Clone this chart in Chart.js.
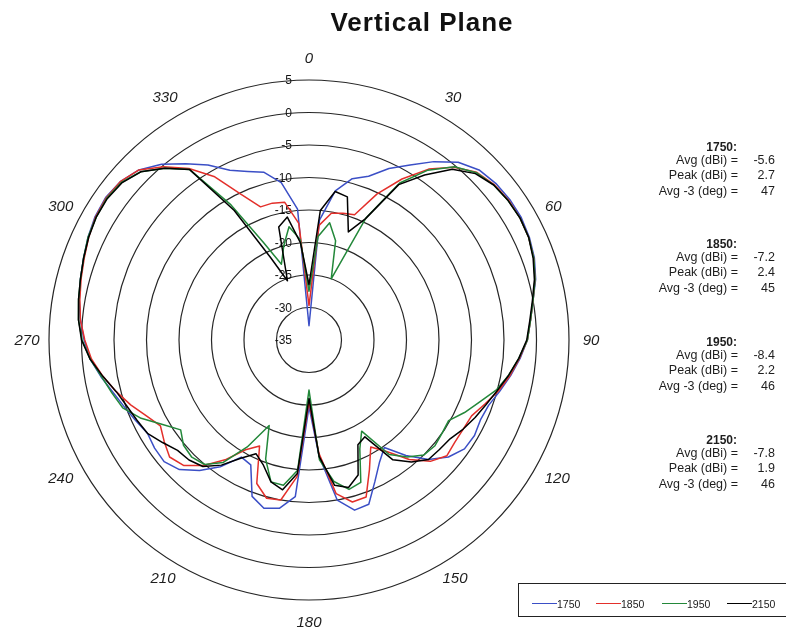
<!DOCTYPE html>
<html><head><meta charset="utf-8">
<script src="https://cdn.jsdelivr.net/npm/chart.js@4.4.1/dist/chart.umd.min.js"></script>
<style>
body{margin:0;background:#fff;}
#wrap{position:relative;width:786px;height:635px;overflow:hidden;font-family:Arial,"Liberation Sans",sans-serif;background:#fff;}
canvas{position:absolute;left:0;top:0;}
.t{position:absolute;white-space:nowrap;color:#1e1e1e;line-height:1;}
</style></head><body>
<div id="wrap"><canvas id="c" width="786" height="635"></canvas></div>
<script>
// ---- data ----
const title = 'Vertical Plane';
const angles = [0,5,10,15,20,25,30,35,40,45,50,55,60,65,70,75,80,85,90,95,100,105,110,115,120,125,130,135,140,145,150,155,160,165,170,175,180,185,190,195,200,205,210,215,220,225,230,235,240,245,250,255,260,265,270,275,280,285,290,295,300,305,310,315,320,325,330,335,340,345,350,355];
const angleTickLabels = [0,30,60,90,120,150,180,210,240,270,300,330];
const radialTickLabels = [5,0,-5,-10,-15,-20,-25,-30,-35];
const seriesNames = ['1750','1850','1950','2150'];
const seriesColors = ['#3b4fc6','#e3302b','#23883a','#000000'];

const gain1750 = [-32.8,-16.5,-11.7,-9.3,-8.2,-5.9,-3.9,-1.5,0.7,2.0,2.5,2.7,2.7,2.4,1.9,1.1,0.0,-0.8,-1.4,-2.4,-3.5,-4.6,-5.6,-5.9,-5.6,-5.8,-7.0,-9.0,-11.8,-14.8,-13.3,-11.0,-8.1,-7.9,-10.0,-17.0,-24.7,-10.8,-8.7,-8.2,-9.4,-13.8,-14.2,-11.2,-8.8,-6.8,-5.9,-6.0,-6.3,-5.6,-4.8,-3.8,-2.5,-1.2,-0.4,0.3,0.9,1.4,1.9,2.5,3.0,3.2,2.9,2.0,0.3,-1.9,-3.9,-6.2,-7.4,-8.3,-10.4,-14.8];
const gain1850 = [-29.7,-17.3,-15.2,-14.8,-14.5,-10.2,-6.4,-2.9,-0.3,1.5,2.2,2.5,2.5,2.3,1.8,1.0,0.0,-0.8,-1.4,-2.5,-3.6,-4.8,-6.2,-7.4,-7.6,-7.6,-7.3,-8.6,-11.0,-14.0,-16.0,-13.0,-9.3,-9.2,-11.0,-17.5,-25.5,-13.9,-10.0,-9.8,-11.5,-17.0,-15.5,-12.5,-9.8,-7.7,-7.0,-7.8,-8.6,-7.4,-5.8,-4.3,-2.8,-1.4,-0.5,0.3,0.8,1.3,1.8,2.4,2.9,3.1,2.9,2.0,-0.2,-2.8,-6.0,-10.3,-13.2,-13.2,-13.5,-17.0];
const gain1950 = [-27.5,-19.0,-16.7,-19.2,-25.0,-14.3,-7.1,-3.1,-0.2,1.4,2.1,2.4,2.5,2.3,1.8,1.0,0.0,-0.8,-1.4,-2.6,-3.8,-5.2,-7.1,-8.6,-10.2,-10.0,-9.7,-10.0,-11.5,-13.5,-18.8,-16.5,-11.7,-11.2,-12.9,-16.5,-27.3,-14.9,-12.3,-12.4,-15.5,-20.5,-16.0,-12.0,-10.0,-9.5,-9.8,-10.9,-9.0,-6.5,-4.5,-3.6,-2.6,-1.2,-0.1,0.6,1.0,1.4,1.9,2.5,2.8,3.0,2.7,1.6,-0.5,-3.0,-11.0,-18.5,-22.6,-20.0,-17.3,-19.5];
const gain2150 = [-26.5,-15.0,-11.8,-12.2,-17.3,-14.4,-7.4,-4.0,-0.7,1.2,2.1,2.4,2.5,2.3,1.7,0.9,-0.1,-0.9,-1.5,-2.6,-3.8,-5.0,-6.0,-6.8,-7.6,-8.5,-8.8,-9.0,-10.5,-12.5,-17.8,-17.2,-12.9,-11.5,-12.3,-17.0,-26.0,-14.4,-11.6,-12.4,-14.5,-15.7,-14.0,-11.5,-9.6,-8.9,-8.6,-7.5,-6.3,-5.8,-5.2,-4.3,-2.8,-1.2,0.0,0.6,1.0,1.4,1.9,2.4,2.8,2.9,2.6,1.6,-0.5,-3.0,-12.0,-21.0,-25.3,-17.0,-15.8,-20.0];

const statAvg = ['-5.6','-7.2','-8.4','-7.8'];
const statPeak = ['2.7','2.4','2.2','1.9'];
const statAvg3 = ['47','45','46','46'];

// ---- overlay text (title, stats, legend) ----
const wrap = document.getElementById('wrap');
function addText(txt, css){
  const d = document.createElement('div');
  d.className = 't'; d.textContent = txt;
  Object.assign(d.style, css);
  wrap.appendChild(d);
  return d;
}
addText(title, {left:'0px', width:'844px', textAlign:'center', top:'9px', fontSize:'26px', fontWeight:'bold', color:'#111', letterSpacing:'1px'});

const groupTop = [141, 238, 336, 434];
const rowOff = [0, 13, 28, 44];
seriesNames.forEach((n, i) => {
  const y = groupTop[i];
  addText(n + ':', {right:(786-737)+'px', top:(y+rowOff[0])+'px', fontSize:'12px', fontWeight:'bold'});
  const labels = ['Avg (dBi) =', 'Peak (dBi) =', 'Avg -3 (deg) ='];
  const vals = [statAvg[i], statPeak[i], statAvg3[i]];
  labels.forEach((l, k) => {
    addText(l, {right:(786-738)+'px', top:(y+rowOff[k+1])+'px', fontSize:'12.5px'});
    addText(vals[k], {right:(786-775)+'px', top:(y+rowOff[k+1])+'px', fontSize:'12.5px'});
  });
});

// legend box
const lg = document.createElement('div');
Object.assign(lg.style, {position:'absolute', left:'518px', top:'583px', width:'280px', height:'34px', border:'1px solid #222', boxSizing:'border-box'});
wrap.appendChild(lg);
const legX = [532, 596, 662, 727];
seriesNames.forEach((n, i) => {
  const ln = document.createElement('div');
  Object.assign(ln.style, {position:'absolute', left:legX[i]+'px', top:'603px', width:'25px', height:'0', borderTop:'1.2px solid '+seriesColors[i]});
  wrap.appendChild(ln);
  addText(n, {left:(legX[i]+25)+'px', top:'598.5px', fontSize:'10.5px', color:'#1a1a1a'});
});

// ---- chart ----
// small nudges so angle labels sit like the original's (pulled toward the horizontal axis)
function labelNudge(a){
  const side = a < 180 ? 1 : -1;
  if (a === 60 || a === 300) return [side * 0 - (a === 300 ? 4 : 0), 7];
  if (a === 120 || a === 240) return [side * 4, -3];
  if (a === 150 || a === 210) return [side * 5, -6];
  if (a === 30 || a === 330) return [side * 3, 1];
  return [0, 0];
}
const labelPlugin = {
  id: 'polarLabels',
  beforeDatasetsDraw(chart){
    const s = chart.scales.r, ctx = chart.ctx;
    ctx.save();
    ctx.fillStyle = '#111';
    ctx.font = '12px Arial, "Liberation Sans", sans-serif';
    ctx.textAlign = 'right'; ctx.textBaseline = 'middle';
    radialTickLabels.forEach(v => {
      const d = s.getDistanceFromCenterForValue(v);
      ctx.fillText(String(v), s.xCenter - 17, s.yCenter - d + 1);
    });
    ctx.restore();
  },
  afterDraw(chart){
    const s = chart.scales.r, ctx = chart.ctx;
    ctx.save();
    ctx.fillStyle = '#1e1e1e';
    ctx.font = 'italic 15px Arial, "Liberation Sans", sans-serif';
    ctx.textAlign = 'center'; ctx.textBaseline = 'middle';
    angleTickLabels.forEach(a => {
      const idx = angles.indexOf(a);
      const p = s.getPointPosition(idx, s.drawingArea + 22);
      const n = labelNudge(a);
      ctx.fillText(String(a), p.x + n[0], p.y + 1 + n[1]);
    });
    ctx.restore();
  }
};

const series = [gain1750, gain1850, gain1950, gain2150];
new Chart(document.getElementById('c'), {
  type: 'radar',
  data: {
    labels: angles.map(String),
    datasets: series.map((d, i) => ({
      label: seriesNames[i], data: d,
      borderColor: seriesColors[i], backgroundColor: 'transparent',
      borderWidth: 1.5, pointRadius: 0, pointHoverRadius: 0, fill: false, tension: 0,
      order: 4 - i
    }))
  },
  options: {
    responsive: false, animation: false, devicePixelRatio: 1,
    layout: {padding: {left: 49, right: 217, top: 80, bottom: 35}},
    plugins: {legend: {display: false}, tooltip: {enabled: false}, title: {display: false}},
    elements: {line: {borderJoinStyle: 'round'}},
    scales: {
      r: {
        min: -35, max: 5, startAngle: 0,
        ticks: {display: false, stepSize: 5},
        grid: {circular: true, color: '#262626', lineWidth: 1.2},
        angleLines: {display: false},
        pointLabels: {display: false}
      }
    }
  },
  plugins: [labelPlugin]
});
</script>
</body></html>
